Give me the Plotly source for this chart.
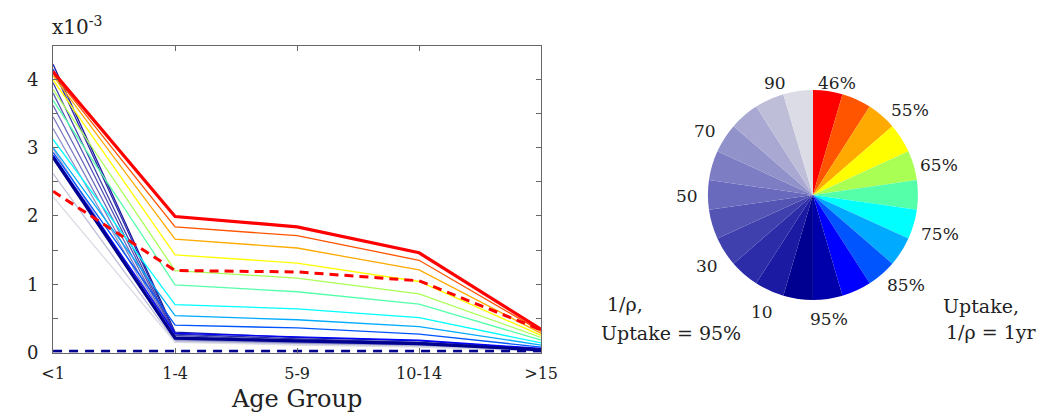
import plotly.graph_objects as go

# ---------------- data ----------------
age_groups = ["<1", "1-4", "5-9", "10-14", ">15"]

# uptake-varying scenarios (rainbow), uptake 46% .. 95%
uptake_labels = ["46%", "50%", "55%", "60%", "65%", "70%", "75%", "80%", "85%", "90%", "95%"]
uptake_colors = ["#ff0000", "#ff5500", "#ffaa00", "#ffff00", "#aaff55", "#55ffaa",
                 "#00ffff", "#00aaff", "#0055ff", "#0000ff", "#0000aa"]
uptake_values = [
    [4.11, 1.99, 1.84, 1.46, 0.34],
    [4.08, 1.84, 1.71, 1.35, 0.31],
    [4.05, 1.66, 1.53, 1.21, 0.28],
    [3.99, 1.43, 1.31, 1.04, 0.25],
    [3.85, 1.20, 1.09, 0.86, 0.22],
    [3.69, 0.99, 0.89, 0.71, 0.18],
    [3.12, 0.70, 0.64, 0.51, 0.14],
    [3.00, 0.54, 0.48, 0.38, 0.11],
    [2.93, 0.40, 0.36, 0.27, 0.08],
    [2.89, 0.28, 0.23, 0.18, 0.06],
    [2.86, 0.21, 0.17, 0.13, 0.04],
]

# 1/rho-varying scenarios (navy -> grey)
rho_labels = ["1", "10", "20", "30", "40", "50", "60", "70", "80", "90", "100"]
rho_colors = ["#000090", "#1a1aa2", "#2c2ca8", "#3f3fae", "#5454b5", "#6969bd",
              "#7d7dc4", "#9292cb", "#a8a8d3", "#bebed9", "#dcdce6"]
rho_values = [
    [2.86, 0.21, 0.17, 0.13, 0.04],
    [4.22, 0.30, 0.22, 0.17, 0.05],
    [4.15, 0.27, 0.20, 0.15, 0.05],
    [3.95, 0.25, 0.18, 0.14, 0.04],
    [3.80, 0.23, 0.17, 0.13, 0.04],
    [3.62, 0.21, 0.15, 0.12, 0.04],
    [3.45, 0.19, 0.14, 0.11, 0.03],
    [3.28, 0.18, 0.13, 0.10, 0.03],
    [2.98, 0.17, 0.12, 0.09, 0.03],
    [2.62, 0.16, 0.12, 0.09, 0.02],
    [2.28, 0.15, 0.11, 0.08, 0.02],
]

baseline_red = [4.11, 1.99, 1.84, 1.46, 0.34]
baseline_navy = [2.86, 0.21, 0.17, 0.13, 0.04]
dashed_red = [2.36, 1.20, 1.18, 1.05, 0.33]
dashed_navy = [0.02, 0.02, 0.02, 0.02, 0.02]

y_ticks = [0, 1, 2, 3, 4]
y_minor_ticks = [0.5, 1.5, 2.5, 3.5, 4.5]

pie_values = [1] * 22
pie_colors = uptake_colors + rho_colors

FONT = "DejaVu Serif"
W, H = 1047, 417

fig = go.Figure()
xs = list(range(len(age_groups)))

for vals, col in zip(rho_values, rho_colors):
    fig.add_trace(go.Scatter(x=xs, y=vals, mode="lines",
                             line=dict(color=col, width=1.3), showlegend=False))
for vals, col in zip(uptake_values, uptake_colors):
    fig.add_trace(go.Scatter(x=xs, y=vals, mode="lines",
                             line=dict(color=col, width=1.3), showlegend=False))
fig.add_trace(go.Scatter(x=xs, y=baseline_navy, mode="lines",
                         line=dict(color="#000090", width=3.2), showlegend=False))
fig.add_trace(go.Scatter(x=xs, y=baseline_red, mode="lines",
                         line=dict(color="#ff0000", width=3.2), showlegend=False))
fig.add_trace(go.Scatter(x=xs, y=dashed_red, mode="lines",
                         line=dict(color="#ff0000", width=3, dash="9px,6px"), showlegend=False))
fig.add_trace(go.Scatter(x=xs, y=dashed_navy, mode="lines",
                         line=dict(color="#000090", width=3, dash="9px,7px"), showlegend=False))

# pie
cx, cy, r = 815.5, 191.5, 108
fig.add_trace(go.Pie(values=pie_values, sort=False, direction="clockwise", rotation=0,
                     marker=dict(colors=pie_colors, line=dict(width=0)),
                     textinfo="none", hoverinfo="skip", showlegend=False,
                     domain=dict(x=[(cx - r) / W, (cx + r) / W],
                                 y=[1 - (cy + r) / H, 1 - (cy - r) / H])))

fig.update_layout(
    width=W, height=H,
    margin=dict(l=0, r=0, t=0, b=0),
    paper_bgcolor="white", plot_bgcolor="white",
    font=dict(family=FONT, color="#222"),
    xaxis=dict(domain=[34 / W, 536 / W], range=[0, 4],
               tickvals=xs, ticktext=age_groups,
               showgrid=False, zeroline=False,
               showline=True, linecolor="#666", linewidth=1, mirror="ticks",
               ticks="inside", ticklen=5, tickcolor="#666",
               ticklabelstandoff=6,
               tickfont=dict(size=16, family=FONT, color="#222"),
               title=dict(text="Age Group", font=dict(size=24, family=FONT, color="#222"),
                          standoff=8)),
    yaxis=dict(domain=[1 - 353 / H, 1 - 39 / H], range=[0, 4.486],
               tickvals=y_ticks,
               minor=dict(tickvals=y_minor_ticks, ticks="inside", ticklen=5,
                          tickcolor="#666", showgrid=False),
               showgrid=False, zeroline=False,
               showline=True, linecolor="#666", linewidth=1, mirror="ticks",
               ticks="inside", ticklen=5, tickcolor="#666",
               ticklabelstandoff=10,
               tickfont=dict(size=18, family=FONT, color="#222")),
)

fig.add_annotation(text="x10<sup>-3</sup>", x=31 / W, y=1 - 18 / H, xref="paper", yref="paper",
                   showarrow=False, xanchor="left", yanchor="middle",
                   font=dict(size=20, family=FONT, color="#222"))

ann = [
    ("46%", 840, 77), ("55%", 915, 104), ("65%", 945, 161),
    ("75%", 946, 232), ("85%", 911, 284), ("95%", 832, 319),
    ("10", 763, 311), ("30", 707, 264), ("50", 686, 193),
    ("70", 704, 126), ("90", 777, 77),
]
for t, x, y in ann:
    fig.add_annotation(text=t, x=x / W, y=1 - y / H, xref="paper", yref="paper",
                       showarrow=False, xanchor="center", yanchor="middle",
                       font=dict(size=17, family=FONT, color="#222"))

side_txt = [("1/ρ,", 602, 303), ("Uptake = 95%", 595, 333),
            ("Uptake,", 947, 305), ("1/ρ = 1yr", 950, 332)]
for t, x, y in side_txt:
    fig.add_annotation(text=t, x=x / W, y=1 - y / H, xref="paper", yref="paper",
                       showarrow=False, xanchor="left", yanchor="middle",
                       font=dict(size=19, family=FONT, color="#222"))

fig.write_html("out.html")
